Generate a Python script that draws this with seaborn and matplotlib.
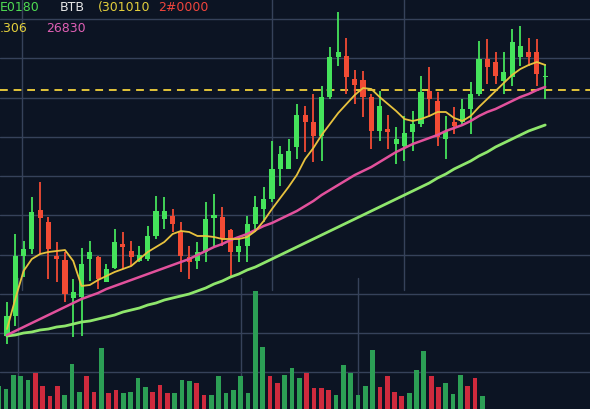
import numpy as np
import pandas as pd
import matplotlib
matplotlib.use("Agg")
import matplotlib.pyplot as plt
import seaborn as sns

# Candles (price in chart units)
opens = [73, 93, 153, 160, 199, 187, 153, 149, 111, 112,
         150, 152, 127, 141, 165, 158, 148, 150, 173, 190,
         193, 178, 152, 148, 157, 191, 192, 179, 157, 163,
         185, 200, 210, 240, 240, 262, 294, 287, 273, 312,
         352, 353, 330, 329, 312, 278, 280, 265, 263, 277,
         285, 318, 308, 270, 287, 287, 300, 315, 350, 347,
         328, 332, 352, 357, 357, 332]
closes = [93, 153, 160, 197, 191, 160, 150, 115, 117, 145,
          157, 130, 140, 167, 162, 152, 154, 173, 198, 198,
          185, 153, 147, 157, 190, 194, 170, 157, 163, 185,
          202, 210, 240, 255, 258, 294, 287, 273, 312, 352,
          357, 332, 324, 312, 278, 303, 277, 270, 276, 285,
          317, 310, 272, 278, 283, 300, 315, 350, 342, 333,
          337, 367, 363, 352, 335, 333]
highs = [107, 175, 168, 212, 227, 192, 167, 157, 130, 161,
         168, 153, 145, 180, 177, 168, 163, 183, 213, 212,
         200, 187, 163, 167, 207, 215, 202, 180, 173, 193,
         213, 222, 268, 263, 270, 305, 303, 315, 323, 362,
         397, 371, 339, 338, 315, 318, 294, 282, 293, 298,
         333, 342, 317, 293, 302, 310, 327, 368, 370, 357,
         357, 380, 383, 371, 370, 345]
lows = [65, 83, 132, 155, 155, 130, 127, 107, 72, 73,
        128, 120, 127, 140, 140, 143, 147, 148, 170, 180,
        177, 137, 130, 140, 147, 163, 163, 133, 147, 147,
        177, 187, 207, 223, 240, 250, 257, 247, 248, 310,
        343, 315, 305, 292, 260, 268, 260, 245, 248, 258,
        282, 292, 263, 250, 275, 283, 275, 313, 325, 325,
        315, 323, 343, 343, 323, 310]

# Moving averages
ma_fast = [80, 110, 138, 150, 155, 157, 158, 159, 148, 123,
           124, 129, 133, 137, 140, 143, 150, 157, 162, 167,
           175, 178, 177, 173, 173, 172, 170, 170, 170, 172,
           178, 188, 200, 211, 222, 234, 250, 261, 274, 285,
           296, 305, 314, 321, 320, 312, 305, 298, 290, 288,
           290, 293, 297, 297, 291, 288, 293, 302, 310, 318,
           326, 334, 340, 344, 347, 344]
ma_mid = [74, 78, 82, 86, 90, 94, 98, 102, 106, 110,
          113, 116, 120, 123, 126, 129, 132, 135, 138, 141,
          144, 147, 150, 154, 158, 162, 165, 169, 172, 175,
          179, 183, 186, 190, 194, 198, 203, 208, 214, 219,
          224, 229, 234, 238, 242, 247, 252, 257, 261, 265,
          268, 271, 274, 278, 281, 284, 288, 293, 297, 300,
          304, 308, 312, 315, 319, 322]
ma_slow = [73, 74, 76, 77, 79, 80, 82, 83, 85, 87,
           88, 90, 92, 94, 97, 99, 101, 104, 106, 109,
           111, 113, 115, 118, 121, 125, 128, 132, 135, 139,
           142, 146, 150, 154, 158, 162, 166, 170, 174, 178,
           182, 186, 190, 194, 198, 202, 206, 210, 214, 218,
           222, 226, 231, 235, 240, 244, 248, 253, 257, 262,
           266, 270, 274, 278, 281, 284]
resistance = 319

# Volume
volumes = [23, 20, 34, 33, 29, 36, 23, 13, 23, 14,
           45, 17, 33, 17, 61, 16, 19, 16, 17, 31,
           22, 17, 24, 16, 16, 29, 28, 26, 14, 14,
           33, 16, 19, 33, 16, 118, 62, 33, 26, 34,
           41, 31, 36, 21, 21, 19, 14, 44, 36, 14,
           23, 59, 22, 33, 17, 13, 16, 39, 58, 33,
           22, 26, 15, 34, 23, 31, 13]
vol_dir = list("GGGGGRRRRGGGRRGRRGGGGRRRGGGRRGGGGGGGGRRGGGRRRRGGGGGGRRRRGGGRRGGGRRG")

header_row1 = ["E0180", "BTB", "(301010", "2#0000"]
header_row2 = [".306", "26830"]

BG = "#0c1423"
GRID = "#36425a"
UP = "#45e35b"
DOWN = "#f24b34"

df = pd.DataFrame({"open": opens, "high": highs, "low": lows, "close": closes,
                   "ma_fast": ma_fast, "ma_mid": ma_mid, "ma_slow": ma_slow})
df["idx"] = np.arange(len(df))
df["up"] = df["close"] >= df["open"]

vdf = pd.DataFrame({"idx": np.arange(len(volumes)), "volume": volumes, "dir": vol_dir})

sns.set_theme(style="dark")
plt.rcParams["font.family"] = ["DejaVu Sans"]

fig = plt.figure(figsize=(5.9, 4.1), dpi=100)
fig.patch.set_facecolor(BG)

# Volume panel (behind)
axv = fig.add_axes([0, 0, 1, 1])
sns.barplot(data=vdf, x="idx", y="volume", hue="dir",
            palette={"G": "#2c9f55", "R": "#cf2a3d"}, dodge=False,
            width=0.64, saturation=1, errorbar=None, legend=False,
            linewidth=0, edgecolor="none", ax=axv)
axv.set_xlim(0.18, 80.67)
axv.set_ylim(0, 410)
for y in np.arange(36.75, 400, 39.25):
    axv.axhline(y, color=GRID, lw=1, zorder=0)
for x in [2.63, 33.05, 49.0]:
    axv.axvline(x, ymax=0.32, color=GRID, lw=1, zorder=0)
axv.set_axis_off()

# Price panel
ax = fig.add_axes([0, 0, 1, 1])
ax.set_xlim(-0.845, 70.41)
ax.set_ylim(0, 410)
for x in [1.8, 32.0, 47.9]:
    ax.axvline(x, ymin=0.29, color=GRID, lw=1, zorder=0)
ax.axhline(resistance, color="#e2c43a", lw=1.4, ls=(0, (4, 3)), zorder=1)

colors = np.where(df["up"], UP, DOWN)
ax.vlines(df["idx"], df["low"], df["high"], colors=colors, lw=1.3, zorder=2)
body = (df["close"] - df["open"]).abs().clip(lower=1.5)
ax.bar(df["idx"], body, bottom=df[["open", "close"]].min(axis=1),
       width=0.62, color=colors, linewidth=0, zorder=3)

sns.lineplot(data=df, x="idx", y="ma_slow", color="#8fe66c", lw=2.0, ax=ax, zorder=4)
sns.lineplot(data=df, x="idx", y="ma_mid", color="#e2519c", lw=1.8, ax=ax, zorder=4)
sns.lineplot(data=df, x="idx", y="ma_fast", color="#e8c23e", lw=1.3, ax=ax, zorder=5)
ax.set_axis_off()

# Header
row1_x = [0, 60, 98, 158]
row1_c = ["#4fdc52", "#e6e6e6", "#e3cf3c", "#f0453c"]
for s, x, c in zip(header_row1, row1_x, row1_c):
    fig.text(x / 590, 1 - 7.5 / 410, s, color=c, fontsize=9, va="center", ha="left")
row2_x = [0, 46]
row2_c = ["#e3cf3c", "#e05fb4"]
for s, x, c in zip(header_row2, row2_x, row2_c):
    fig.text(x / 590, 1 - 28 / 410, s, color=c, fontsize=9, va="center", ha="left")

fig.savefig("out.png", dpi=100, facecolor=fig.get_facecolor())
